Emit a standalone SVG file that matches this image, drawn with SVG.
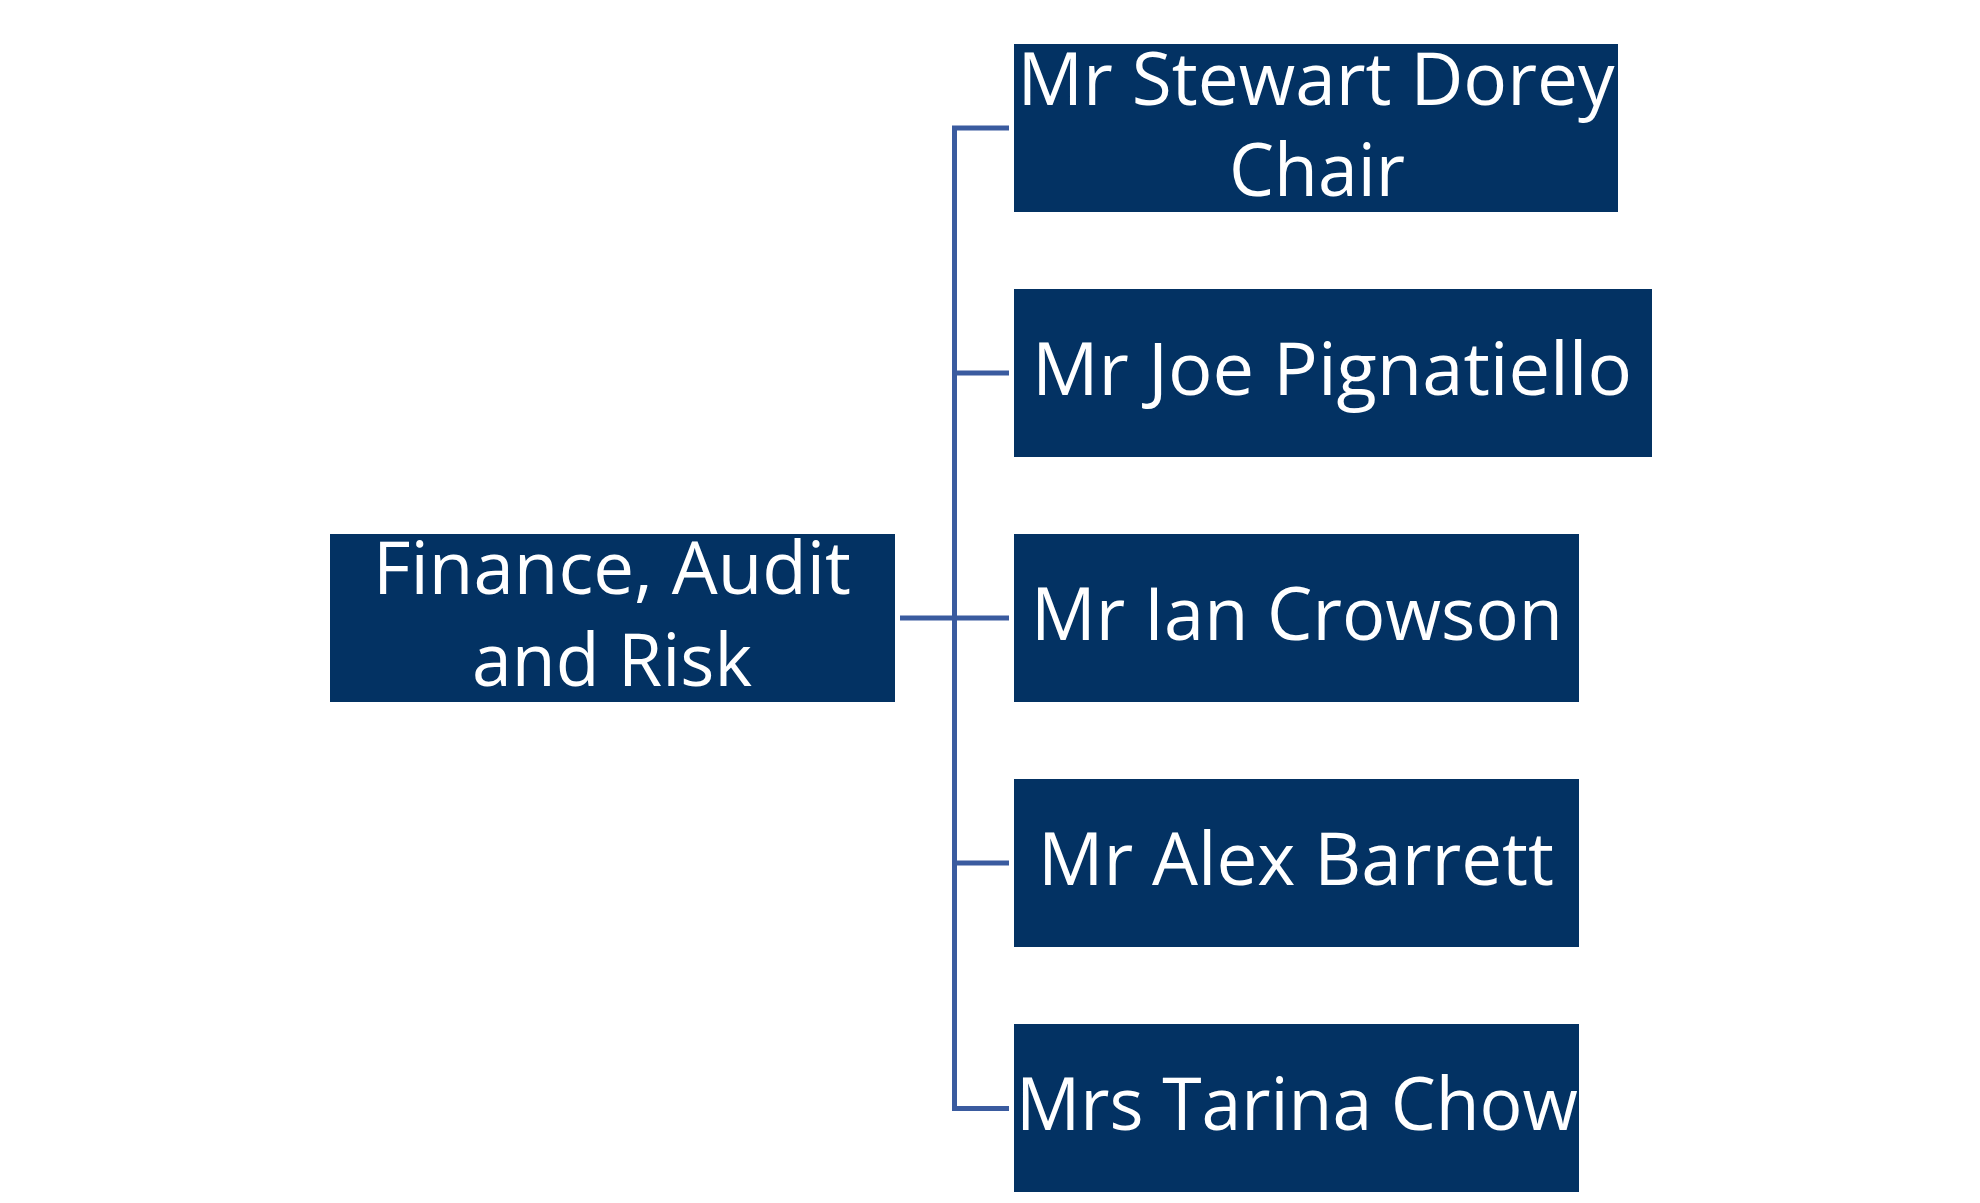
<svg xmlns="http://www.w3.org/2000/svg" width="1980" height="1203" viewBox="0 0 1980 1203">
<style>
.box{fill:#033263;}
.lbl{font-family:"Open Sans","Liberation Sans",sans-serif;font-size:74px;fill:#ffffff;text-anchor:middle;}
.conn{fill:none;stroke:#3A5B9F;stroke-width:5;}
</style>
<rect width="1980" height="1203" fill="#ffffff"/>
<g id="connectors">
<path class="conn" d="M1009,128 H954.5 V1108.5 H1009"/>
<path class="conn" d="M954.5,373 H1009"/>
<path class="conn" d="M954.5,618 H1009"/>
<path class="conn" d="M954.5,863 H1009"/>
<path class="conn" d="M900,618 H954.5" stroke-width="6"/>
</g>
<g id="node-finance">
<rect class="box" x="330" y="534" width="565" height="168"/>
<text class="lbl" x="612" y="594" textLength="478" lengthAdjust="spacingAndGlyphs">Finance, Audit</text>
<text class="lbl" x="612" y="686" textLength="280" lengthAdjust="spacingAndGlyphs">and Risk</text>
</g>
<g id="node-dorey">
<rect class="box" x="1014" y="44" width="604" height="168"/>
<text class="lbl" x="1316" y="105" textLength="597" lengthAdjust="spacingAndGlyphs">Mr Stewart Dorey</text>
<text class="lbl" x="1317" y="196" textLength="176" lengthAdjust="spacingAndGlyphs">Chair</text>
</g>
<g id="node-pignatiello">
<rect class="box" x="1014" y="289" width="638" height="168"/>
<text class="lbl" x="1332" y="395" textLength="600" lengthAdjust="spacingAndGlyphs">Mr Joe Pignatiello</text>
</g>
<g id="node-crowson">
<rect class="box" x="1014" y="534" width="565" height="168"/>
<text class="lbl" x="1297" y="640" textLength="532" lengthAdjust="spacingAndGlyphs">Mr Ian Crowson</text>
</g>
<g id="node-barrett">
<rect class="box" x="1014" y="779" width="565" height="168"/>
<text class="lbl" x="1296" y="885" textLength="516" lengthAdjust="spacingAndGlyphs">Mr Alex Barrett</text>
</g>
<g id="node-chow">
<rect class="box" x="1014" y="1024" width="565" height="168"/>
<text class="lbl" x="1297" y="1130" textLength="562" lengthAdjust="spacingAndGlyphs">Mrs Tarina Chow</text>
</g>
</svg>
